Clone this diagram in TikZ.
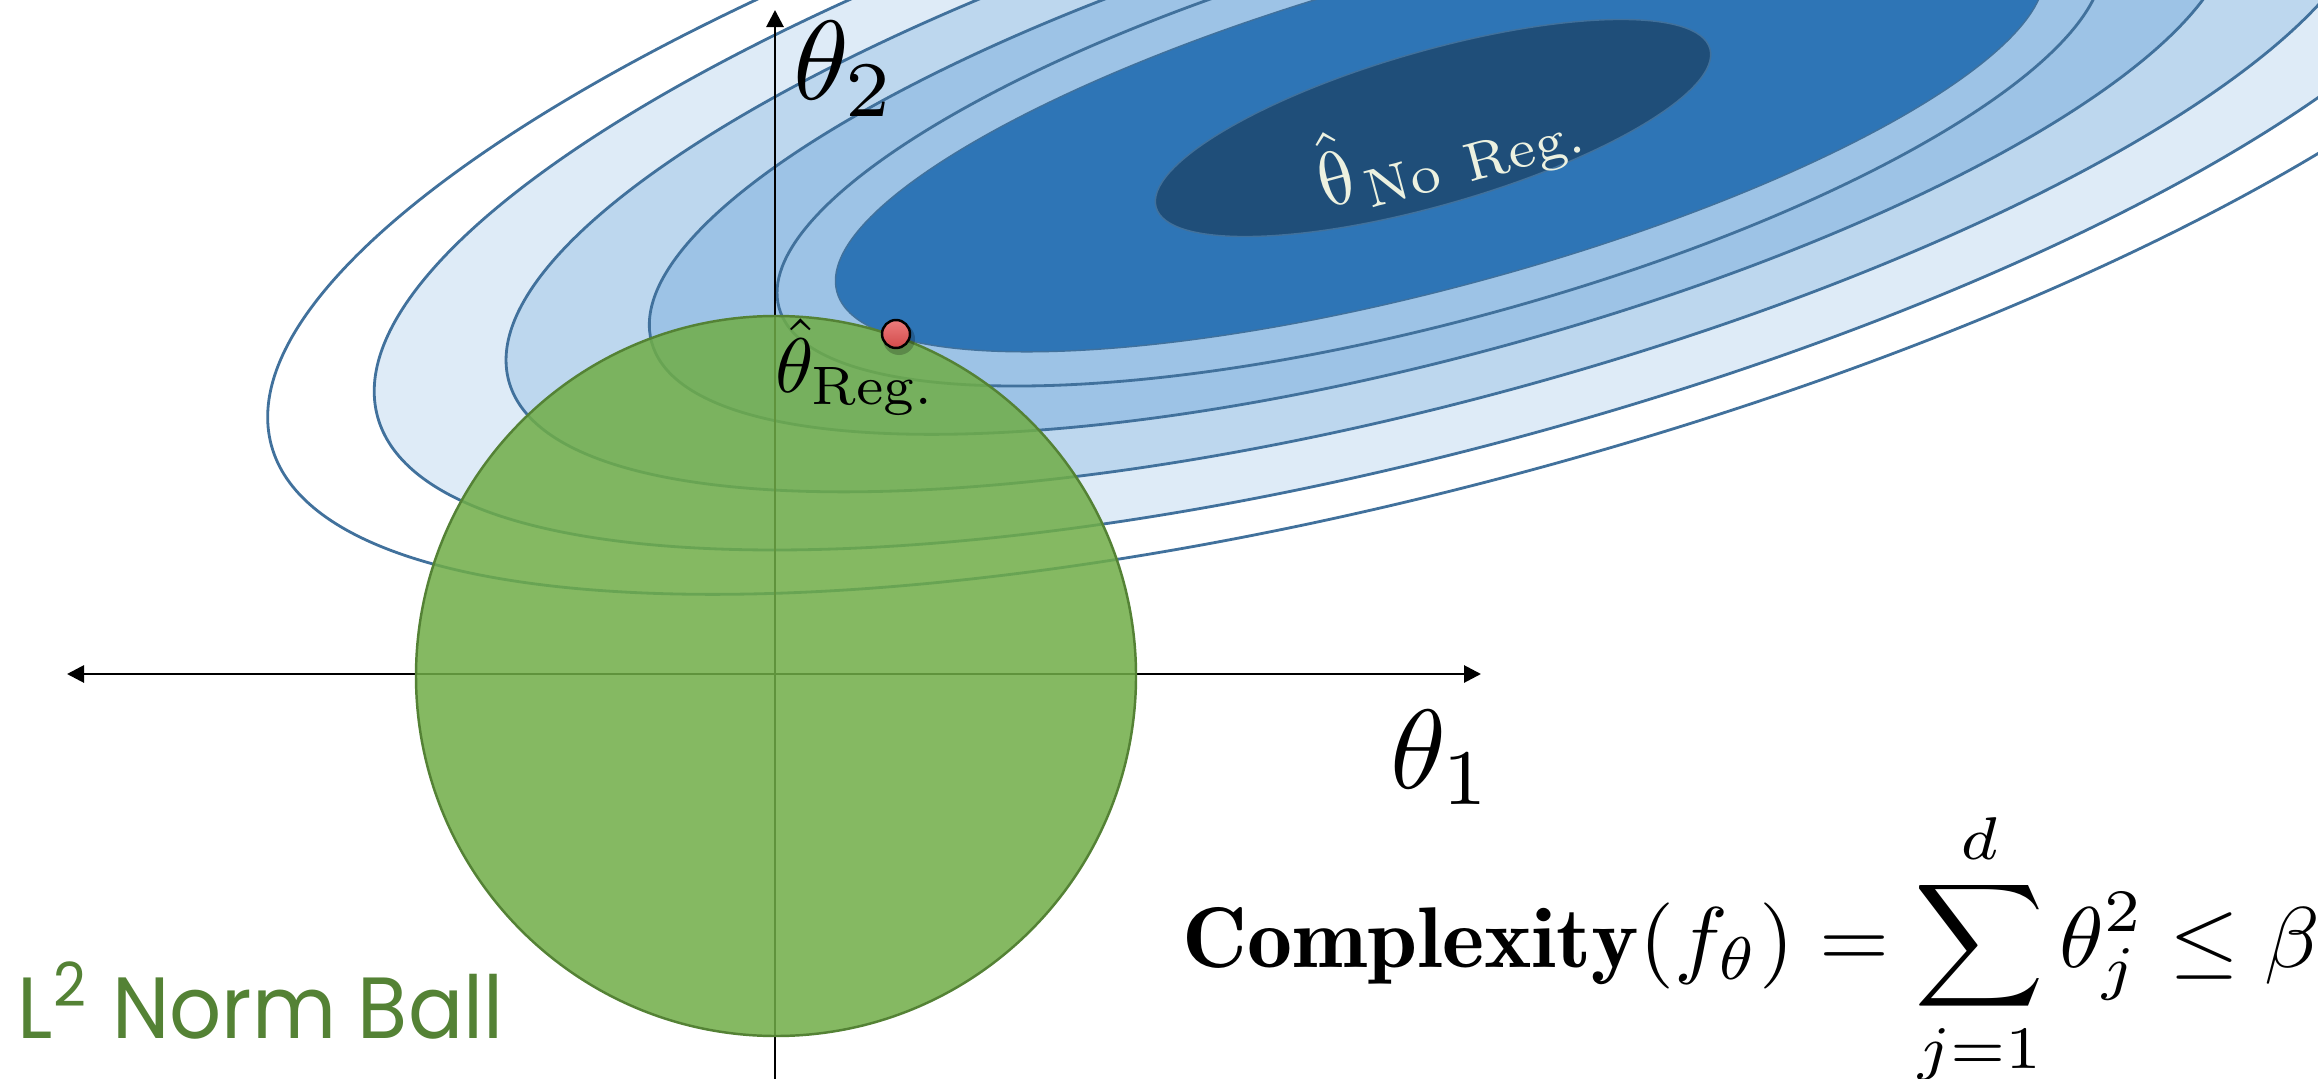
\documentclass[tikz,border=0pt]{standalone}
\usepackage{amsmath}
\usepackage{fontspec}
\newfontfamily\normfont{Poppins}
\usetikzlibrary{arrows.meta}
\definecolor{cline}{HTML}{41719C}
\definecolor{bA}{HTML}{DEEBF7}
\definecolor{bB}{HTML}{BDD7EE}
\definecolor{bC}{HTML}{9DC3E6}
\definecolor{bD}{HTML}{2E75B6}
\definecolor{bE}{HTML}{1F4E79}
\definecolor{ballfill}{HTML}{70AD47}
\definecolor{balledge}{HTML}{548235}
\definecolor{cream}{HTML}{ECF1E0}
\definecolor{dottop}{HTML}{EC7C7C}
\definecolor{dotbot}{HTML}{D24A4A}
\newcommand{\upth}{\tikz[baseline=0pt]\node[inner sep=0pt,outer sep=0pt,anchor=base,xslant=-0.25]{$\theta$};}
\tikzset{
  contour/.style={draw=cline, line width=0.8pt},
  axisline/.style={draw=black, line width=0.8pt},
  axtip/.tip={Triangle[length=0.17cm, width=0.17cm]},
  lbl/.style={inner sep=0pt, outer sep=0pt, anchor=base west}
}
\begin{document}
\begin{tikzpicture}[x=0.01cm, y=-0.01cm]
\useasboundingbox (0,0) rectangle (2318,1079);
\clip (0,0) rectangle (2318,1079);
\fill[white] (0,0) rectangle (2318,1079);
% contour ellipses
\begin{scope}[rotate around={15.2:(1440,128)}]
  \draw[contour] (1440,128) ellipse [x radius=1211, y radius=354];
  \filldraw[contour, fill=bA] (1440,128) ellipse [x radius=1101, y radius=319];
  \filldraw[contour, fill=bB] (1440,128) ellipse [x radius=965, y radius=271];
  \filldraw[contour, fill=bC] (1440,128) ellipse [x radius=817, y radius=227];
  \draw[contour] (1440,128) ellipse [x radius=685, y radius=192];
  \filldraw[draw=cline, line width=0.4pt, fill=bD] (1440,128) ellipse [x radius=625, y radius=158];
\end{scope}
\filldraw[draw=cline, line width=0.4pt, fill=bE, rotate around={16:(1433,128)}] (1433,128) ellipse [x radius=288, y radius=77];
% axes
\coordinate (xl) at (67,674);
\coordinate (xr) at (1481,674);
\coordinate (yb) at (775,1079);
\coordinate (yt) at (775,10);
\draw[axisline, axtip-axtip] (xl) -- (xr);
\draw[axisline, -axtip] (yb) -- (yt);
% L2 ball
\filldraw[fill=ballfill, fill opacity=0.85, draw=balledge, line width=0.7pt] (776,676) circle [radius=360];
% labels
\node[lbl, scale=3.2] (t2) at (793,100) {$\theta_2$};
\node[lbl, scale=3.2] (t1) at (1390,788) {$\theta_1$};
\node[lbl, scale=2.2] (treg) at (775,393) {$\hat{\theta}_{\mathrm{Reg.}}$};
\node[rotate=15, text=cream, inner sep=0pt, scale=2.2] (tno) at (1446,150) {$\hat{\mbox{\upth}}_{\mathrm{No\ Reg.}}$};
\node[lbl, scale=2.45, xscale=1.045] (cx) at (1182,967) {$\displaystyle \mathbf{Complexity}(f_\theta) = \sum_{j=1}^{d} \theta_j^2 \le \beta$};
\node[lbl, text=balledge, scale=2.47, xscale=0.94, font=\normfont] (nb) at (18,1038) {L\textsuperscript{2} Norm Ball};
% regularized solution point
\fill[black, opacity=0.22] (899,339) circle [radius=16];
\shadedraw[top color=dottop, bottom color=dotbot, draw=black, line width=0.7pt] (896,334) circle [radius=14];
\end{tikzpicture}
\end{document}
